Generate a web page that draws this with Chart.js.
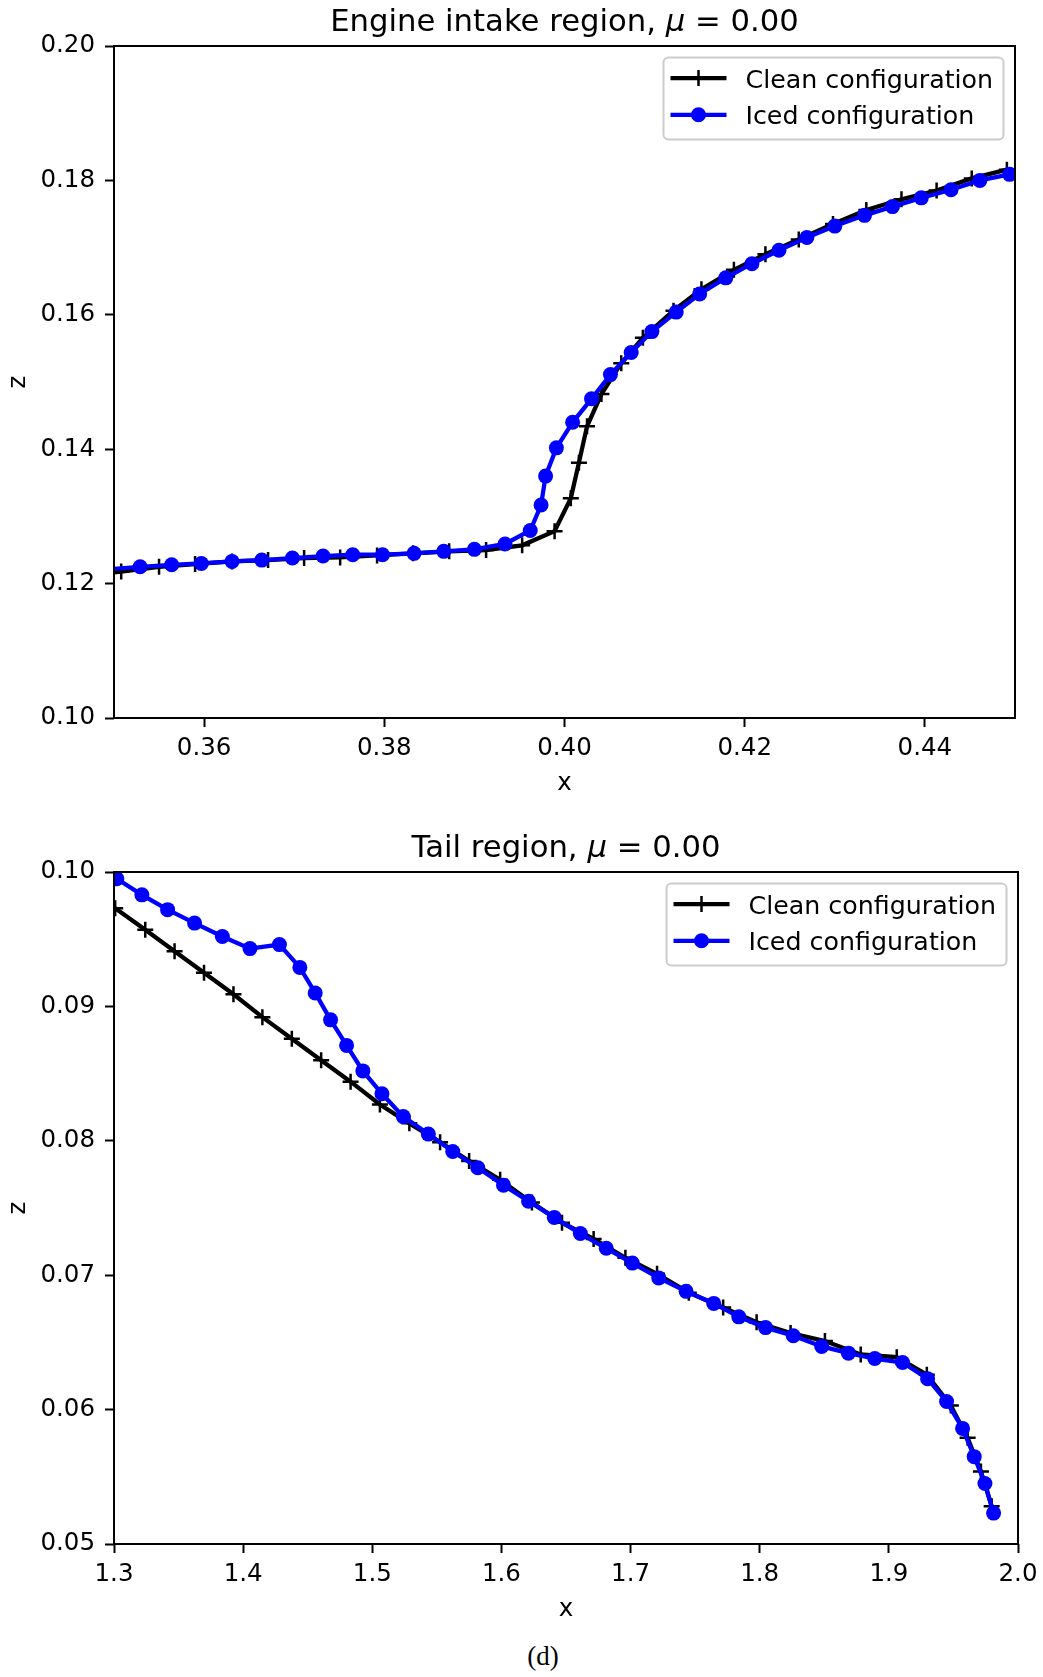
<!DOCTYPE html>
<html lang="en">
<head>
<meta charset="UTF-8">
<title>Engine intake and tail regions</title>
<style>
    body { margin: 0; background: #fff; }
    .page { position: relative; width: 1043px; height: 1677px; }
    canvas { position: absolute; left: 0; }
    #intake { top: 0; }
    #tail { top: 800px; }
    .caption {
        position: absolute; top: 1640px; left: 443px; width: 200px;
        text-align: center; color: #000;
        font-family: "Liberation Serif", serif; font-size: 27px; line-height: 32px;
    }
</style>
<script src="https://cdn.jsdelivr.net/npm/chart.js"></script>
</head>
<body>
<div class="page">
    <canvas id="intake" width="1043" height="800"></canvas>
    <canvas id="tail" width="1043" height="840"></canvas>
    <div class="caption">(d)</div>
</div>

<script>
// engine intake region
const intakeCleanX = [0.3468, 0.3508, 0.3550, 0.3590, 0.3631, 0.3671, 0.3711, 0.3751, 0.3792, 0.3832, 0.3872,
    0.3913, 0.3953, 0.3989, 0.4007, 0.4016, 0.4025, 0.4041, 0.4063, 0.4087, 0.4121, 0.4152, 0.4188, 0.4223,
    0.4260, 0.4298, 0.4335, 0.4374, 0.4413, 0.4452, 0.4491];
const intakeCleanZ = [0.1212, 0.1218, 0.1225, 0.1229, 0.1233, 0.1235, 0.1238, 0.1239, 0.1242, 0.1245, 0.1248,
    0.1250, 0.1257, 0.1278, 0.1327, 0.1380, 0.1434, 0.1482, 0.1528, 0.1566, 0.1606, 0.1638, 0.1667, 0.1690,
    0.1712, 0.1735, 0.1756, 0.1772, 0.1785, 0.1803, 0.1816];
const intakeIcedX = [0.3490, 0.3529, 0.3564, 0.3597, 0.3631, 0.3664, 0.3698, 0.3732, 0.3765, 0.3798, 0.3833,
    0.3866, 0.3900, 0.3934, 0.3962, 0.3974, 0.3979, 0.3991, 0.4009, 0.4030, 0.4051, 0.4074, 0.4097, 0.4124,
    0.4150, 0.4179, 0.4208, 0.4238, 0.4269, 0.4300, 0.4333, 0.4364, 0.4396, 0.4429, 0.4461, 0.4494];
const intakeIcedZ = [0.1221, 0.1225, 0.1228, 0.1230, 0.1233, 0.1235, 0.1238, 0.1241, 0.1243, 0.1243, 0.1245,
    0.1248, 0.1251, 0.1259, 0.1279, 0.1317, 0.1360, 0.1402, 0.1440, 0.1475, 0.1511, 0.1544, 0.1575, 0.1604,
    0.1631, 0.1655, 0.1676, 0.1696, 0.1715, 0.1732, 0.1748, 0.1761, 0.1774, 0.1786, 0.1800, 0.1809];
const intakeXTicks = [0.36, 0.38, 0.40, 0.42, 0.44];
const intakeZTicks = [0.10, 0.12, 0.14, 0.16, 0.18, 0.20];

// tail region
const tailCleanX = [1.3009, 1.3242, 1.3469, 1.3697, 1.3925, 1.4149, 1.4377, 1.4604, 1.4832, 1.5059, 1.5287,
    1.5525, 1.5750, 1.5990, 1.6236, 1.6469, 1.6714, 1.6960, 1.7205, 1.7451, 1.7717, 1.7976, 1.8239, 1.8505,
    1.8782, 1.9061, 1.9294, 1.9480, 1.9610, 1.9713, 1.9796];
const tailCleanZ = [0.0973, 0.0957, 0.0941, 0.0925, 0.0909, 0.0892, 0.0876, 0.0860, 0.0844, 0.0827, 0.0813,
    0.0799, 0.0785, 0.0771, 0.0754, 0.0739, 0.0727, 0.0713, 0.0701, 0.0687, 0.0676, 0.0665, 0.0657, 0.0651,
    0.0641, 0.0639, 0.0626, 0.0603, 0.0579, 0.0554, 0.0528];
const tailIcedX = [1.3022, 1.3216, 1.3415, 1.3624, 1.3839, 1.4053, 1.4281, 1.4439, 1.4558, 1.4677, 1.4801,
    1.4927, 1.5075, 1.5240, 1.5434, 1.5623, 1.5817, 1.6016, 1.6210, 1.6409, 1.6611, 1.6812, 1.7014, 1.7218,
    1.7430, 1.7644, 1.7838, 1.8045, 1.8260, 1.8480, 1.8687, 1.8891, 1.9106, 1.9300, 1.9447, 1.9571, 1.9661,
    1.9744, 1.9811];
const tailIcedZ = [0.0995, 0.0983, 0.0972, 0.0962, 0.0952, 0.0943, 0.0946, 0.0929, 0.0910, 0.0890, 0.0871,
    0.0852, 0.0835, 0.0818, 0.0805, 0.0792, 0.0780, 0.0767, 0.0755, 0.0743, 0.0731, 0.0720, 0.0709, 0.0698,
    0.0688, 0.0679, 0.0669, 0.0661, 0.0655, 0.0647, 0.0642, 0.0638, 0.0635, 0.0623, 0.0606, 0.0586, 0.0565,
    0.0545, 0.0523];
const tailXTicks = [1.3, 1.4, 1.5, 1.6, 1.7, 1.8, 1.9, 2.0];
const tailZTicks = [0.05, 0.06, 0.07, 0.08, 0.09, 0.10];

const FONT = '"DejaVu Sans"';
const TICK_SIZE = 24.5;
const LEGEND_SIZE = 25.3;
const TITLE_SIZE = 30.7;
const LINE_W = 4.3;
const BLUE = '#0000ff';

function pairs(xs, zs) {
    return xs.map((x, i) => ({ x: x, y: zs[i] }));
}

// frame, title, axis labels and legend, drawn on top of the datasets
const decor = {
    id: 'decor',
    afterDraw(chart, args, o) {
        const ctx = chart.ctx;
        const a = chart.chartArea;
        ctx.save();

        ctx.strokeStyle = '#000';
        ctx.lineWidth = 2;
        ctx.strokeRect(a.left, a.top, a.right - a.left, a.bottom - a.top);

        // title with italic mu
        const normal = TITLE_SIZE + 'px ' + FONT;
        const italic = 'italic ' + TITLE_SIZE + 'px ' + FONT;
        const parts = [[o.title + ', ', normal], ['\u03bc', italic], [' = 0.00', normal]];
        let total = 0;
        parts.forEach(p => { ctx.font = p[1]; total += ctx.measureText(p[0]).width; });
        let x = (a.left + a.right) / 2 - total / 2;
        ctx.fillStyle = '#000';
        ctx.textAlign = 'left';
        ctx.textBaseline = 'alphabetic';
        parts.forEach(p => {
            ctx.font = p[1];
            ctx.fillText(p[0], x, a.top - 15);
            x += ctx.measureText(p[0]).width;
        });

        // axis labels
        ctx.font = TICK_SIZE + 'px ' + FONT;
        ctx.textAlign = 'center';
        ctx.fillText('x', (a.left + a.right) / 2, a.bottom + 72);
        ctx.save();
        ctx.translate(24.5, (a.top + a.bottom) / 2);
        ctx.rotate(-Math.PI / 2);
        ctx.fillText('z', 0, 0);
        ctx.restore();

        // legend, upper right
        const bw = 340, bh = 82;
        const bx = a.right - 11.5 - bw, by = a.top + 11.5;
        ctx.beginPath();
        ctx.roundRect(bx, by, bw, bh, 5);
        ctx.fillStyle = 'rgba(255,255,255,0.8)';
        ctx.fill();
        ctx.strokeStyle = '#cccccc';
        ctx.lineWidth = 2;
        ctx.stroke();

        const rows = [
            { label: 'Clean configuration', color: '#000', marker: 'cross' },
            { label: 'Iced configuration', color: BLUE, marker: 'circle' }
        ];
        rows.forEach((r, i) => {
            const ry = by + 20.6 + i * 36.7;
            ctx.strokeStyle = r.color;
            ctx.lineWidth = LINE_W;
            ctx.beginPath();
            ctx.moveTo(bx + 7, ry);
            ctx.lineTo(bx + 63, ry);
            ctx.stroke();
            const mx = bx + 35;
            if (r.marker === 'cross') {
                ctx.lineWidth = 2.5;
                ctx.beginPath();
                ctx.moveTo(mx, ry - 8); ctx.lineTo(mx, ry + 8);
                ctx.moveTo(mx - 8, ry); ctx.lineTo(mx + 8, ry);
                ctx.stroke();
            } else {
                ctx.fillStyle = r.color;
                ctx.beginPath();
                ctx.arc(mx, ry, 7.5, 0, Math.PI * 2);
                ctx.fill();
            }
            ctx.fillStyle = '#000';
            ctx.font = LEGEND_SIZE + 'px ' + FONT;
            ctx.textAlign = 'left';
            ctx.fillText(r.label, bx + 82, ry + 9.4);
        });

        ctx.restore();
    }
};

function axis(min, max, ticks, digits, pad, fit) {
    return {
        type: 'linear',
        min: min,
        max: max,
        afterBuildTicks: s => { s.ticks = ticks.map(v => ({ value: v })); },
        afterFit: fit,
        ticks: {
            color: '#000',
            font: { family: 'DejaVu Sans', size: TICK_SIZE },
            padding: pad,
            autoSkip: false,
            maxRotation: 0,
            callback: v => Number(v).toFixed(digits)
        },
        grid: { display: true, drawOnChartArea: false, drawTicks: true, tickLength: 9, tickWidth: 2, tickColor: '#000' },
        border: { display: false }
    };
}

function buildChart(id, cfg) {
    return new Chart(document.getElementById(id), {
        type: 'scatter',
        data: {
            datasets: [
                {
                    label: 'Clean configuration',
                    data: pairs(cfg.cleanX, cfg.cleanZ),
                    showLine: true,
                    borderColor: '#000',
                    borderWidth: LINE_W,
                    pointStyle: 'cross',
                    pointRadius: 8,
                    pointHoverRadius: 8,
                    pointBorderColor: '#000',
                    pointBackgroundColor: '#000',
                    pointBorderWidth: 2.5,
                    order: 2,
                    clip: 0
                },
                {
                    label: 'Iced configuration',
                    data: pairs(cfg.icedX, cfg.icedZ),
                    showLine: true,
                    borderColor: BLUE,
                    borderWidth: LINE_W,
                    pointStyle: 'circle',
                    pointRadius: 7.5,
                    pointHoverRadius: 7.5,
                    pointBackgroundColor: BLUE,
                    pointBorderColor: BLUE,
                    pointBorderWidth: 0,
                    order: 1,
                    clip: 0
                }
            ]
        },
        options: {
            responsive: false,
            animation: false,
            events: [],
            layout: { padding: { top: cfg.top, right: cfg.right, left: 0, bottom: 0 } },
            scales: {
                x: axis(cfg.xMin, cfg.xMax, cfg.xTicks, cfg.xDigits, 7, s => {
                    s.height = cfg.xAxisHeight;
                    s.paddingLeft = 0; s.paddingRight = 0;
                }),
                y: axis(cfg.zMin, cfg.zMax, cfg.zTicks, 2, 10, s => {
                    s.width = 114;
                    s.paddingTop = 0; s.paddingBottom = 0;
                })
            },
            plugins: {
                legend: { display: false },
                tooltip: { enabled: false },
                decor: { title: cfg.title }
            }
        },
        plugins: [decor]
    });
}

buildChart('intake', {
    title: 'Engine intake region',
    cleanX: intakeCleanX, cleanZ: intakeCleanZ,
    icedX: intakeIcedX, icedZ: intakeIcedZ,
    xMin: 0.35, xMax: 0.45, xTicks: intakeXTicks, xDigits: 2,
    zMin: 0.10, zMax: 0.20, zTicks: intakeZTicks,
    top: 46, right: 28, xAxisHeight: 82
});

buildChart('tail', {
    title: 'Tail region',
    cleanX: tailCleanX, cleanZ: tailCleanZ,
    icedX: tailIcedX, icedZ: tailIcedZ,
    xMin: 1.3, xMax: 2.0, xTicks: tailXTicks, xDigits: 1,
    zMin: 0.05, zMax: 0.10, zTicks: tailZTicks,
    top: 72, right: 25, xAxisHeight: 96
});
</script>
</body>
</html>
